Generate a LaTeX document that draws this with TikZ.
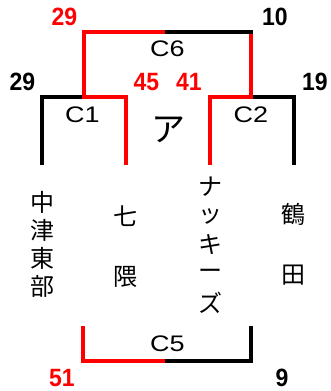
\documentclass[tikz,border=0pt]{standalone}
\usepackage{fontspec}
\setmainfont{Liberation Sans}
\newfontfamily\jp{Noto Sans CJK JP}
\definecolor{bred}{RGB}{255,0,0}
\begin{document}
\begin{tikzpicture}[x=1pt,y=-1pt,
  seg/.style={line width=4pt,line cap=rect},
  wonseg/.style={seg,bred},
  loseg/.style={seg,black},
  num/.style={inner sep=0pt,xscale=0.92,font=\fontsize{25}{25}\selectfont\bfseries},
  wnum/.style={num,text=bred},
  clab/.style={inner sep=0pt,xscale=1.2,font=\fontsize{22.5}{22.5}\selectfont},
  team/.style={inner sep=0pt,font=\jp\fontsize{24}{24}\selectfont}]
\useasboundingbox (0,0) rectangle (331,391);
\fill[white] (0,0) rectangle (331,391);
% coordinates
\coordinate (c1l) at (41.5,163); \coordinate (c1lt) at (41.5,97);
\coordinate (c1m) at (84,97);
\coordinate (c1rt) at (126,97); \coordinate (c1r) at (126,163);
\coordinate (c2l) at (210,163); \coordinate (c2lt) at (210,97);
\coordinate (c2m) at (251,97);
\coordinate (c2rt) at (294,97); \coordinate (c2r) at (294,163);
\coordinate (c6lt) at (84,32); \coordinate (c6m) at (167,32); \coordinate (c6rt) at (251,32);
\coordinate (c5l) at (83,328); \coordinate (c5lb) at (83,361);
\coordinate (c5m) at (167,361);
\coordinate (c5rb) at (251,361); \coordinate (c5r) at (251,328);
% C1
\draw[loseg] (c1l) -- (c1lt) -- (c1m);
\draw[wonseg] (c1m) -- (c1rt) -- (c1r);
% C2
\draw[wonseg] (c2l) -- (c2lt) -- (c2m);
\draw[loseg] (c2m) -- (c2rt) -- (c2r);
% C6
\draw[wonseg] (c1m) -- (c6lt) -- (c6m);
\draw[wonseg] (c2m) -- (c6rt);
\draw[loseg] (c6m) -- (c6rt);
% C5
\draw[wonseg] (c5l) -- (c5lb) -- (c5m);
\draw[loseg] (c5m) -- (c5rb) -- (c5r);
% labels
\node[wnum] (s6a) at (64.5,16.5) {29};
\node[num] (s6b) at (275,17) {10};
\node[clab] (lc6) at (167.5,48.5) {C6};
\node[num] (s1a) at (22.5,82) {29};
\node[wnum] (s1b) at (146.5,82) {45};
\node[wnum] (s2a) at (189,82) {41};
\node[num] (s2b) at (315,82) {19};
\node[clab] (lc1) at (82.5,115) {C1};
\node[clab] (lc2) at (251,114.5) {C2};
\node[inner sep=0pt,font=\jp\fontsize{34}{34}\selectfont] (a) at (168,130) {ア};
\node[clab] (lc5) at (167.5,344) {C5};
\node[wnum] (s5a) at (62,378) {51};
\node[num] (s5b) at (282,378) {9};
% teams
\foreach \c [count=\i from 0] in {中,津,東,部}
  \node[team] (t1\i) at (42,202+28.3*\i) {\c};
\node[team] (t20) at (125,216.5) {七};
\node[team] (t21) at (125,277) {隈};
\foreach \c [count=\i from 0] in {ナ,ッ,キ,ー,ズ}
  \node[team] (t3\i) at (210,187+29*\i) {\c};
\node[team] (t40) at (293,214) {鶴};
\node[team] (t41) at (293,275) {田};
\end{tikzpicture}
\end{document}
